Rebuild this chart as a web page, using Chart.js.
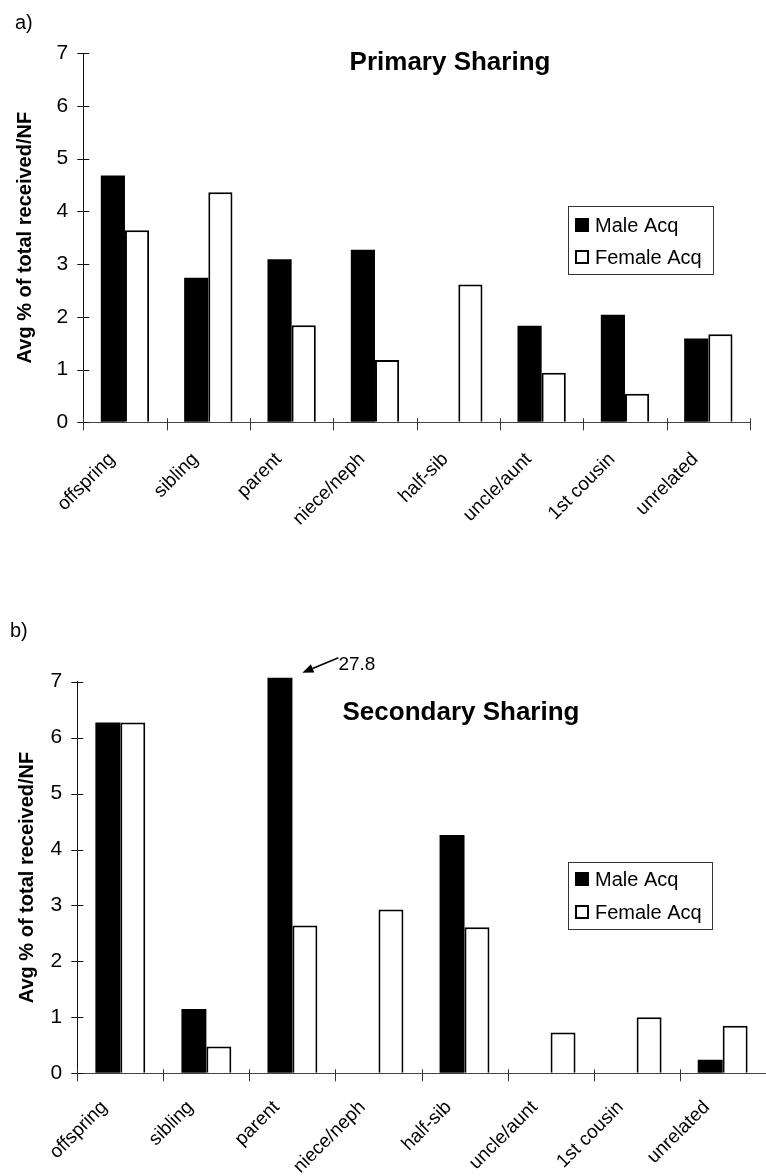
<!DOCTYPE html>
<html>
<head>
<meta charset="utf-8">
<title>Primary and Secondary Sharing</title>
<script src="https://cdn.jsdelivr.net/npm/chart.js@4.4.1/dist/chart.umd.min.js"></script>
<style>
  html, body { margin: 0; padding: 0; background: #fff; }
  body { width: 766px; height: 1176px; position: relative; overflow: hidden; }
  canvas { position: absolute; left: 0; }
  #chartA { top: 0; }
  #chartB { top: 590px; }
</style>
</head>
<body>
<canvas id="chartA" width="766" height="590"></canvas>
<canvas id="chartB" width="766" height="586"></canvas>
<script>
// Kin categories along the x axis
const categories = ['offspring', 'sibling', 'parent', 'niece/neph', 'half-sib', 'uncle/aunt', '1st cousin', 'unrelated'];
const seriesNames = ['Male Acq', 'Female Acq'];

// a) Primary sharing: avg % of total received / NF
const primaryMale   = [4.68, 2.74, 3.09, 3.27, null, 1.83, 2.04, 1.59];
const primaryFemale = [3.64, 4.36, 1.84, 1.18, 2.61, 0.94, 0.54, 1.67];

// b) Secondary sharing (parent / male runs off the scale at 27.8)
const secondaryMale   = [6.27, 1.15, 27.8, null, 4.26, null, null, 0.24];
const secondaryFemale = [6.27, 0.48, 2.64, 2.93, 2.61, 0.73, 1.00, 0.85];

// value axis: 0 .. 7 in steps of 1
const yMin = 0, yMax = 7, yStep = 1;
const yTitle = 'Avg % of total received/NF';

const FONT = '"Liberation Sans", Arial, Helvetica, sans-serif';

// Cross ticks on both axes, panel letter, in-plot title and boxed legend
const decorations = {
  id: 'decorations',
  afterDraw(chart, args, o) {
    const ctx = chart.ctx;
    const xs = chart.scales.x, ys = chart.scales.y;
    const area = chart.chartArea;
    ctx.save();
    // value-axis ticks crossing the axis line
    ctx.strokeStyle = '#111';
    ctx.lineWidth = 1;
    ys.ticks.forEach((t, i) => {
      const py = Math.round(ys.getPixelForTick(i)) + 0.5;
      ctx.beginPath();
      ctx.moveTo(area.left - 6, py);
      ctx.lineTo(area.left + 6, py);
      ctx.stroke();
    });
    // category separators on the x axis
    ctx.strokeStyle = '#333';
    for (let i = 0; i <= categories.length; i++) {
      const px = Math.round(xs.getPixelForValue(i - 0.5)) + 0.5;
      ctx.beginPath();
      ctx.moveTo(px, area.bottom - 4);
      ctx.lineTo(px, area.bottom + 8);
      ctx.stroke();
    }
    // panel letter
    ctx.fillStyle = '#000';
    ctx.textAlign = 'left';
    ctx.textBaseline = 'alphabetic';
    ctx.font = '20px ' + FONT;
    ctx.fillText(o.panel.text, o.panel.x, o.panel.y);
    // chart title inside the plot
    ctx.font = 'bold 26px ' + FONT;
    ctx.textAlign = 'center';
    ctx.fillText(o.title.text, o.title.x, o.title.y);
    // legend box
    const L = o.legend;
    ctx.lineWidth = 1;
    ctx.strokeStyle = '#333';
    ctx.strokeRect(Math.round(L.x) + 0.5, Math.round(L.y) + 0.5, L.w, L.h);
    ctx.font = '20px ' + FONT;
    ctx.textAlign = 'left';
    ctx.textBaseline = 'middle';
    chart.data.datasets.forEach((ds, i) => {
      const cy = L.y + L.firstRow + i * L.rowGap;
      const mx = L.x + 7;
      ctx.fillStyle = ds.backgroundColor;
      ctx.fillRect(mx, cy - 7, 14, 14);
      if (ds.borderWidth) {
        ctx.lineWidth = 2;
        ctx.strokeStyle = ds.borderColor;
        ctx.strokeRect(mx + 1, cy - 6, 12, 12);
      }
      ctx.fillStyle = '#000';
      ctx.fillText(ds.label, mx + 20, cy + 1);
    });
    ctx.restore();
  }
};

// Arrow and value label for a bar that runs past the top of the axis
const callout = {
  id: 'callout',
  afterDatasetsDraw(chart, args, o) {
    if (!o || !o.text) return;
    const bar = chart.getDatasetMeta(o.dataset).data[o.index];
    const right = bar.x + bar.width / 2;
    const top = chart.chartArea.top;
    const tip = { x: right + 10, y: top - 9 };
    const tail = { x: right + 46, y: top - 24 };
    const ctx = chart.ctx;
    ctx.save();
    ctx.strokeStyle = '#000';
    ctx.fillStyle = '#000';
    ctx.lineWidth = 1.5;
    const ang = Math.atan2(tip.y - tail.y, tip.x - tail.x);
    const headLen = 11, headW = 4.5;
    const bx = tip.x - headLen * Math.cos(ang), by = tip.y - headLen * Math.sin(ang);
    ctx.beginPath();
    ctx.moveTo(tail.x, tail.y);
    ctx.lineTo(bx, by);
    ctx.stroke();
    ctx.beginPath();
    ctx.moveTo(tip.x, tip.y);
    ctx.lineTo(bx + headW * Math.sin(ang), by - headW * Math.cos(ang));
    ctx.lineTo(bx - headW * Math.sin(ang), by + headW * Math.cos(ang));
    ctx.closePath();
    ctx.fill();
    ctx.font = '19px ' + FONT;
    ctx.textAlign = 'left';
    ctx.textBaseline = 'alphabetic';
    ctx.fillText(o.text, tail.x, top - 12);
    ctx.restore();
  }
};

function makeChart(id, male, female, geom, deco, call) {
  return new Chart(document.getElementById(id), {
    type: 'bar',
    data: {
      labels: categories,
      datasets: [
        {
          label: seriesNames[0],
          data: male,
          backgroundColor: '#000',
          borderColor: '#000',
          borderWidth: 0,
          clip: geom.clip
        },
        {
          label: seriesNames[1],
          data: female,
          backgroundColor: '#fff',
          borderColor: '#000',
          borderWidth: 2
        }
      ]
    },
    options: {
      responsive: false,
      devicePixelRatio: 1,
      animation: false,
      events: [],
      layout: { padding: { left: 0, right: geom.padRight, top: geom.padTop, bottom: 0 } },
      datasets: { bar: { categoryPercentage: 0.58, barPercentage: 1.0 } },
      plugins: {
        legend: { display: false },
        tooltip: { enabled: false },
        title: { display: false },
        decorations: deco,
        callout: call || {}
      },
      scales: {
        x: {
          afterFit: s => { s.height = geom.xHeight; },
          grid: { display: true, drawOnChartArea: false, drawTicks: false },
          border: { display: true, color: '#444', width: 1 },
          ticks: {
            color: '#000',
            font: { family: FONT, size: 19 },
            minRotation: 45,
            maxRotation: 45,
            autoSkip: false,
            padding: geom.xPad,
            labelOffset: geom.xShift
          }
        },
        y: {
          min: yMin,
          max: yMax,
          afterFit: s => { s.width = geom.yWidth; },
          grid: { display: true, drawOnChartArea: false, drawTicks: false },
          border: { display: true, color: '#111', width: 1 },
          ticks: {
            stepSize: yStep,
            color: '#000',
            font: { family: FONT, size: 21 },
            padding: 15
          },
          title: {
            display: true,
            text: yTitle,
            color: '#000',
            font: { family: FONT, size: 20, weight: 'bold' },
            padding: { top: geom.titlePad, bottom: 0 }
          }
        }
      }
    },
    plugins: [decorations, callout]
  });
}

makeChart('chartA', primaryMale, primaryFemale,
  { padRight: 16, padTop: 53, xHeight: 590 - 422.3, yWidth: 83.3, xPad: 26, xShift: -13, titlePad: 13, clip: undefined },
  {
    panel: { text: 'a)', x: 15, y: 29 },
    title: { text: 'Primary Sharing', x: 450, y: 70 },
    legend: { x: 568, y: 206, w: 145, h: 68, firstRow: 19, rowGap: 32 }
  });

makeChart('chartB', secondaryMale, secondaryFemale,
  { padRight: 0.3, padTop: 91.7, xHeight: 586 - 483.3, yWidth: 77.3, xPad: 23, xShift: -16, titlePad: 15, clip: { left: 4, top: 4, right: 4, bottom: 4 } },
  {
    panel: { text: 'b)', x: 10, y: 47 },
    title: { text: 'Secondary Sharing', x: 461, y: 130 },
    legend: { x: 568, y: 272, w: 144, h: 67, firstRow: 17, rowGap: 33 }
  },
  { text: '27.8', dataset: 0, index: 2 });
</script>
</body>
</html>
